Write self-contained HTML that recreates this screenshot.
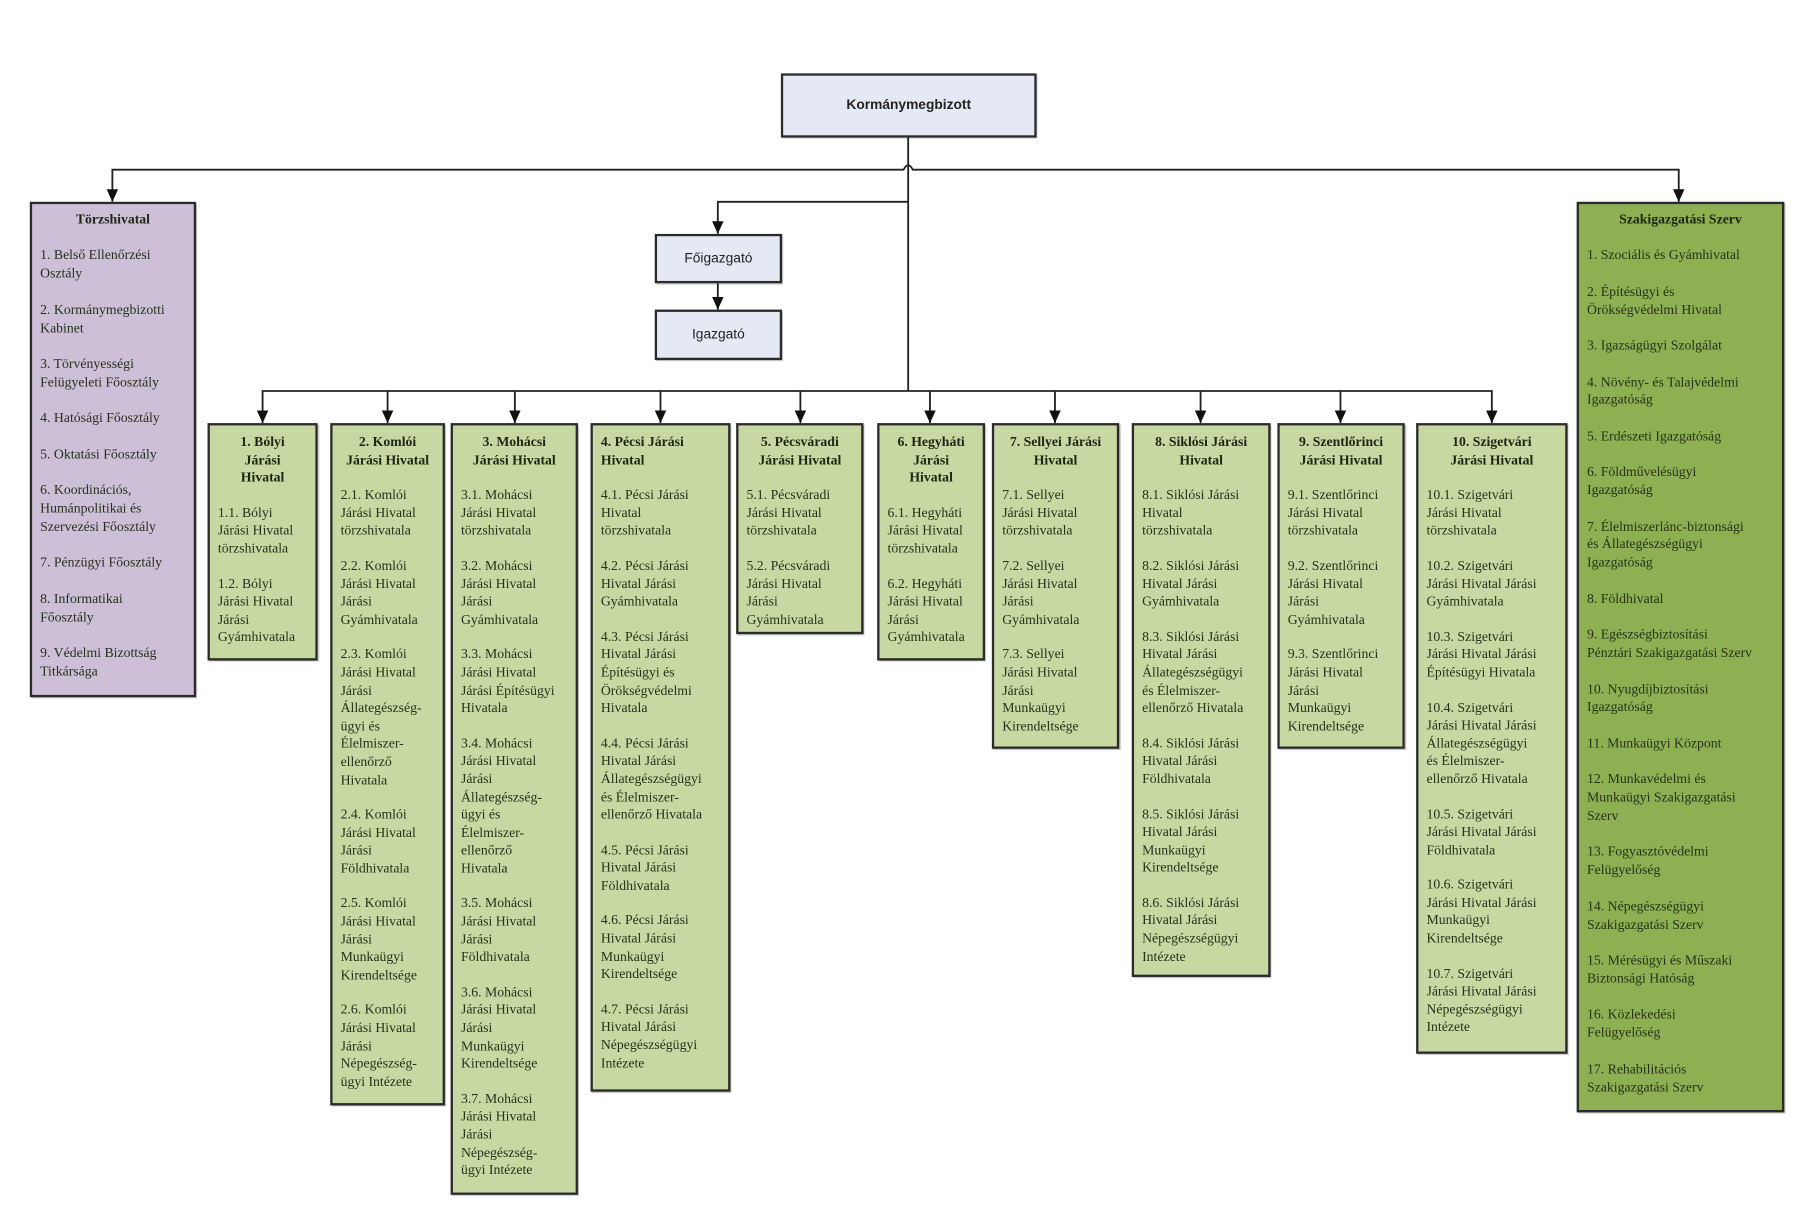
<!DOCTYPE html>
<html><head><meta charset="utf-8">
<style>
html,body{margin:0;padding:0;background:#fff;}
body{width:1798px;height:1215px;overflow:hidden;position:relative;}
#w{position:absolute;left:0;top:0;width:1568px;height:1060px;transform:scale(1.14668);transform-origin:0 0;}
.b{position:absolute;box-sizing:border-box;border:2px solid #2b2b2b;font-family:"Liberation Serif",serif;font-size:12px;line-height:15.6px;color:#26321a;padding:7px 7px;white-space:nowrap;box-shadow:1px 1px 1px rgba(0,0,0,.35);}
.g{background:#c8d8a3;}
.dg{background:#8eb052;line-height:15.9px;padding-top:6px;}
.p{background:#cdbfd8;line-height:15.9px;padding-top:6px;}
.dg p,.p p{margin-bottom:15.5px !important;}
.bl{background:#e4e9f4;font-family:"Liberation Sans",sans-serif;color:#222;text-align:center;display:flex;align-items:center;justify-content:center;}
.b p{margin:0 0 15px 0;}
.t{font-weight:bold;text-align:center;color:#1c2612;}
.tl{font-weight:bold;color:#1c2612;}
svg{position:absolute;left:0;top:0;}
</style></head><body><div id="w">
<svg width="1568" height="1060">
<g stroke="#222" stroke-width="1.6" fill="none">
<path d="M792,119 V341"/>
<path d="M98,176 V148 H788 Q792,140 796,148 H1464 V176"/>
<path d="M792,176 H626 V204"/>
<path d="M626,246 V270"/>
<path d="M229,369 V341 H1301 V369"/>
<path d="M338,341 V369 M449,341 V369 M576,341 V369 M698,341 V369 M811,341 V369 M920,341 V369 M1047,341 V369 M1169,341 V369"/>
</g>
<g fill="#111">
<path d="M93,165 L103,165 L98,176 z"/><path d="M1459,165 L1469,165 L1464,176 z"/>
<path d="M621,193 L631,193 L626,204 z"/><path d="M621,259 L631,259 L626,270 z"/>
<path d="M224,358 L234,358 L229,369 z"/><path d="M333,358 L343,358 L338,369 z"/><path d="M444,358 L454,358 L449,369 z"/><path d="M571,358 L581,358 L576,369 z"/><path d="M693,358 L703,358 L698,369 z"/><path d="M806,358 L816,358 L811,369 z"/><path d="M915,358 L925,358 L920,369 z"/><path d="M1042,358 L1052,358 L1047,369 z"/><path d="M1164,358 L1174,358 L1169,369 z"/><path d="M1296,358 L1306,358 L1301,369 z"/>
</g>
</svg>

<div class="b bl" style="left:681px;top:64px;width:223px;height:56px;font-weight:bold;font-size:12px;">Kormánymegbizott</div>
<div class="b bl" style="left:571px;top:204px;width:111px;height:43px;font-size:12px;">Főigazgató</div>
<div class="b bl" style="left:571px;top:270px;width:111px;height:44px;font-size:12px;">Igazgató</div>

<div class="b p" style="left:26px;top:176px;width:145px;height:432px;">
<p class="t">Törzshivatal</p>
<p>1. Belső Ellenőrzési<br>Osztály</p>
<p>2. Kormánymegbizotti<br>Kabinet</p>
<p>3. Törvényességi<br>Felügyeleti Főosztály</p>
<p>4. Hatósági Főosztály</p>
<p>5. Oktatási Főosztály</p>
<p>6. Koordinációs,<br>Humánpolitikai és<br>Szervezési Főosztály</p>
<p>7. Pénzügyi Főosztály</p>
<p>8. Informatikai<br>Főosztály</p>
<p>9. Védelmi Bizottság<br>Titkársága</p>
</div>

<div class="b dg" style="left:1375px;top:176px;width:181px;height:794px;">
<p class="t">Szakigazgatási Szerv</p>
<p>1. Szociális és Gyámhivatal</p>
<p>2. Építésügyi és<br>Örökségvédelmi Hivatal</p>
<p>3. Igazságügyi Szolgálat</p>
<p>4. Növény- és Talajvédelmi<br>Igazgatóság</p>
<p>5. Erdészeti Igazgatóság</p>
<p>6. Földművelésügyi<br>Igazgatóság</p>
<p>7. Élelmiszerlánc-biztonsági<br>és Állategészségügyi<br>Igazgatóság</p>
<p>8. Földhivatal</p>
<p>9. Egészségbiztosítási<br>Pénztári Szakigazgatási Szerv</p>
<p>10. Nyugdíjbiztosítási<br>Igazgatóság</p>
<p>11. Munkaügyi Központ</p>
<p>12. Munkavédelmi és<br>Munkaügyi Szakigazgatási<br>Szerv</p>
<p>13. Fogyasztóvédelmi<br>Felügyelőség</p>
<p>14. Népegészségügyi<br>Szakigazgatási Szerv</p>
<p>15. Mérésügyi és Műszaki<br>Biztonsági Hatóság</p>
<p>16. Közlekedési<br>Felügyelőség</p>
<p>17. Rehabilitációs<br>Szakigazgatási Szerv</p>
</div>

<div class="b g" style="left:181px;top:369px;width:96px;height:207px;">
<p class="t">1. Bólyi<br>Járási<br>Hivatal</p>
<p>1.1. Bólyi<br>Járási Hivatal<br>törzshivatala</p>
<p>1.2. Bólyi<br>Járási Hivatal<br>Járási<br>Gyámhivatala</p>
</div>

<div class="b g" style="left:288px;top:369px;width:100px;height:595px;">
<p class="t">2. Komlói<br>Járási Hivatal</p>
<p>2.1. Komlói<br>Járási Hivatal<br>törzshivatala</p>
<p>2.2. Komlói<br>Járási Hivatal<br>Járási<br>Gyámhivatala</p>
<p>2.3. Komlói<br>Járási Hivatal<br>Járási<br>Állategészség-<br>ügyi és<br>Élelmiszer-<br>ellenőrző<br>Hivatala</p>
<p>2.4. Komlói<br>Járási Hivatal<br>Járási<br>Földhivatala</p>
<p>2.5. Komlói<br>Járási Hivatal<br>Járási<br>Munkaügyi<br>Kirendeltsége</p>
<p>2.6. Komlói<br>Járási Hivatal<br>Járási<br>Népegészség-<br>ügyi Intézete</p>
</div>

<div class="b g" style="left:393px;top:369px;width:111px;height:673px;">
<p class="t">3. Mohácsi<br>Járási Hivatal</p>
<p>3.1. Mohácsi<br>Járási Hivatal<br>törzshivatala</p>
<p>3.2. Mohácsi<br>Járási Hivatal<br>Járási<br>Gyámhivatala</p>
<p>3.3. Mohácsi<br>Járási Hivatal<br>Járási Építésügyi<br>Hivatala</p>
<p>3.4. Mohácsi<br>Járási Hivatal<br>Járási<br>Állategészség-<br>ügyi és<br>Élelmiszer-<br>ellenőrző<br>Hivatala</p>
<p>3.5. Mohácsi<br>Járási Hivatal<br>Járási<br>Földhivatala</p>
<p>3.6. Mohácsi<br>Járási Hivatal<br>Járási<br>Munkaügyi<br>Kirendeltsége</p>
<p>3.7. Mohácsi<br>Járási Hivatal<br>Járási<br>Népegészség-<br>ügyi Intézete</p>
</div>

<div class="b g" style="left:515px;top:369px;width:122px;height:583px;">
<p class="tl">4. Pécsi Járási<br>Hivatal</p>
<p>4.1. Pécsi Járási<br>Hivatal<br>törzshivatala</p>
<p>4.2. Pécsi Járási<br>Hivatal Járási<br>Gyámhivatala</p>
<p>4.3. Pécsi Járási<br>Hivatal Járási<br>Építésügyi és<br>Örökségvédelmi<br>Hivatala</p>
<p>4.4. Pécsi Járási<br>Hivatal Járási<br>Állategészségügyi<br>és Élelmiszer-<br>ellenőrző Hivatala</p>
<p>4.5. Pécsi Járási<br>Hivatal Járási<br>Földhivatala</p>
<p>4.6. Pécsi Járási<br>Hivatal Járási<br>Munkaügyi<br>Kirendeltsége</p>
<p>4.7. Pécsi Járási<br>Hivatal Járási<br>Népegészségügyi<br>Intézete</p>
</div>

<div class="b g" style="left:642px;top:369px;width:111px;height:184px;">
<p class="t">5. Pécsváradi<br>Járási Hivatal</p>
<p>5.1. Pécsváradi<br>Járási Hivatal<br>törzshivatala</p>
<p>5.2. Pécsváradi<br>Járási Hivatal<br>Járási<br>Gyámhivatala</p>
</div>

<div class="b g" style="left:765px;top:369px;width:94px;height:207px;">
<p class="t">6. Hegyháti<br>Járási<br>Hivatal</p>
<p>6.1. Hegyháti<br>Járási Hivatal<br>törzshivatala</p>
<p>6.2. Hegyháti<br>Járási Hivatal<br>Járási<br>Gyámhivatala</p>
</div>

<div class="b g" style="left:865px;top:369px;width:111px;height:284px;">
<p class="t">7. Sellyei Járási<br>Hivatal</p>
<p>7.1. Sellyei<br>Járási Hivatal<br>törzshivatala</p>
<p>7.2. Sellyei<br>Járási Hivatal<br>Járási<br>Gyámhivatala</p>
<p>7.3. Sellyei<br>Járási Hivatal<br>Járási<br>Munkaügyi<br>Kirendeltsége</p>
</div>

<div class="b g" style="left:987px;top:369px;width:121px;height:483px;">
<p class="t">8. Siklósi Járási<br>Hivatal</p>
<p>8.1. Siklósi Járási<br>Hivatal<br>törzshivatala</p>
<p>8.2. Siklósi Járási<br>Hivatal Járási<br>Gyámhivatala</p>
<p>8.3. Siklósi Járási<br>Hivatal Járási<br>Állategészségügyi<br>és Élelmiszer-<br>ellenőrző Hivatala</p>
<p>8.4. Siklósi Járási<br>Hivatal Járási<br>Földhivatala</p>
<p>8.5. Siklósi Járási<br>Hivatal Járási<br>Munkaügyi<br>Kirendeltsége</p>
<p>8.6. Siklósi Járási<br>Hivatal Járási<br>Népegészségügyi<br>Intézete</p>
</div>

<div class="b g" style="left:1114px;top:369px;width:111px;height:284px;">
<p class="t">9. Szentlőrinci<br>Járási Hivatal</p>
<p>9.1. Szentlőrinci<br>Járási Hivatal<br>törzshivatala</p>
<p>9.2. Szentlőrinci<br>Járási Hivatal<br>Járási<br>Gyámhivatala</p>
<p>9.3. Szentlőrinci<br>Járási Hivatal<br>Járási<br>Munkaügyi<br>Kirendeltsége</p>
</div>

<div class="b g" style="left:1235px;top:369px;width:132px;height:550px;">
<p class="t">10. Szigetvári<br>Járási Hivatal</p>
<p>10.1. Szigetvári<br>Járási Hivatal<br>törzshivatala</p>
<p>10.2. Szigetvári<br>Járási Hivatal Járási<br>Gyámhivatala</p>
<p>10.3. Szigetvári<br>Járási Hivatal Járási<br>Építésügyi Hivatala</p>
<p>10.4. Szigetvári<br>Járási Hivatal Járási<br>Állategészségügyi<br>és Élelmiszer-<br>ellenőrző Hivatala</p>
<p>10.5. Szigetvári<br>Járási Hivatal Járási<br>Földhivatala</p>
<p>10.6. Szigetvári<br>Járási Hivatal Járási<br>Munkaügyi<br>Kirendeltsége</p>
<p>10.7. Szigetvári<br>Járási Hivatal Járási<br>Népegészségügyi<br>Intézete</p>
</div>
</div></body></html>
